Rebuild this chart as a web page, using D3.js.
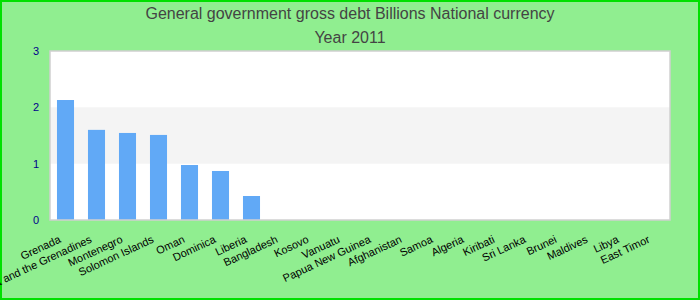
<!DOCTYPE html>
<html>
<head>
<meta charset="utf-8">
<script src="https://cdn.jsdelivr.net/npm/d3@7"></script>
<style>
  body { margin: 0; }
  svg { display: block; font-family: "Liberation Sans", Arial, sans-serif; }
</style>
</head>
<body>
<div id="chart"></div>
<script>
const countries = [
  "Grenada", "Saint Vincent and the Grenadines", "Montenegro", "Solomon Islands",
  "Oman", "Dominica", "Liberia", "Bangladesh", "Kosovo", "Vanuatu",
  "Papua New Guinea", "Afghanistan", "Samoa", "Algeria", "Kiribati",
  "Sri Lanka", "Brunei", "Maldives", "Libya", "East Timor"
];
const debt = [2.13, 1.60, 1.545, 1.51, 0.976, 0.87, 0.426, 0, 0, 0,
              0, 0, 0, 0, 0, 0, 0, 0, 0, 0];
const yTicks = [0, 1, 2, 3];

const width = 700, height = 300;
const margin = { top: 51, right: 30, bottom: 80, left: 50 };
const innerW = width - margin.left - margin.right;
const innerH = height - margin.top - margin.bottom;

const svg = d3.select("#chart").append("svg")
  .attr("width", width)
  .attr("height", height);

svg.append("rect")
  .attr("x", 1).attr("y", 1)
  .attr("width", width - 2).attr("height", height - 2)
  .attr("fill", "#90ee90")
  .attr("stroke", "#00e000")
  .attr("stroke-width", 2);

const x = d3.scaleBand()
  .domain(countries)
  .range([margin.left, margin.left + innerW])
  .paddingInner(0.45)
  .paddingOuter(0.225);

const y = d3.scaleLinear()
  .domain([0, 3])
  .range([margin.top + innerH, margin.top]);

// plot background with alternating band
svg.append("rect")
  .attr("x", margin.left).attr("y", margin.top)
  .attr("width", innerW).attr("height", innerH)
  .attr("fill", "#fff");

svg.append("rect")
  .attr("x", margin.left).attr("y", y(2))
  .attr("width", innerW).attr("height", y(1) - y(2))
  .attr("fill", "#f4f4f4");

svg.append("g")
  .selectAll("rect")
  .data(countries.map((c, i) => ({ c, v: debt[i] })))
  .join("rect")
    .attr("x", d => x(d.c))
    .attr("width", x.bandwidth())
    .attr("y", d => y(d.v))
    .attr("height", d => y(0) - y(d.v))
    .attr("fill", "#61a9f6");

svg.append("rect")
  .attr("x", margin.left).attr("y", margin.top)
  .attr("width", innerW).attr("height", innerH)
  .attr("fill", "none")
  .attr("stroke", "#d0d0d0")
  .attr("stroke-width", 1.5);

// y axis labels
const yAxis = svg.append("g")
  .attr("transform", `translate(${margin.left - 11},0)`)
  .call(d3.axisLeft(y).tickValues(yTicks).tickFormat(d3.format("d")).tickSize(0).tickPadding(0));
yAxis.select(".domain").remove();
yAxis.selectAll("text")
  .attr("fill", "#00008b")
  .style("font-size", "11px");

// x axis labels
const xAxis = svg.append("g")
  .attr("transform", `translate(0,${margin.top + innerH})`)
  .call(d3.axisBottom(x).tickSize(0).tickPadding(0));
xAxis.select(".domain").remove();
xAxis.selectAll("text")
  .attr("fill", "#000")
  .style("font-size", "11px")
  .attr("text-anchor", "end")
  .attr("dy", "0")
  .attr("y", 0)
  .attr("transform", "translate(-4,22) rotate(-25)");

svg.append("text")
  .attr("x", width / 2).attr("y", 19)
  .attr("text-anchor", "middle")
  .attr("fill", "#444")
  .style("font-size", "16px")
  .text("General government gross debt Billions National currency");

svg.append("text")
  .attr("x", width / 2).attr("y", 43)
  .attr("text-anchor", "middle")
  .attr("fill", "#444")
  .style("font-size", "16px")
  .text("Year 2011");
</script>
</body>
</html>
